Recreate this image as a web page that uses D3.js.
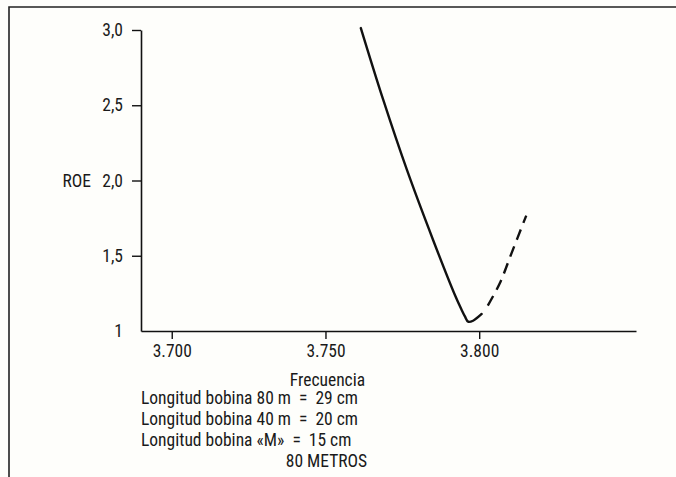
<!DOCTYPE html>
<html>
<head>
<meta charset="utf-8">
<script src="https://cdn.jsdelivr.net/npm/d3@7"></script>
<style>
  html, body { margin: 0; padding: 0; background: #fefefb; }
  svg { display: block; }
  text { font-family: "Liberation Sans Narrow", "Arial Narrow", "Roboto Condensed", sans-serif; fill: #1a1a1a; }
</style>
</head>
<body>
<svg id="chart" width="676" height="477"></svg>
<script>
// ---- data ----
const solidFreq = [3.7615, 3.7688, 3.7765, 3.7850, 3.7921, 3.7943, 3.7954, 3.7964, 3.7980, 3.8008];
const solidRoe  = [3.013, 2.535, 2.070, 1.605, 1.239, 1.140, 1.095, 1.062, 1.068, 1.113];
const dashFreq  = [3.8028, 3.8067, 3.8105, 3.8153];
const dashRoe   = [1.169, 1.317, 1.516, 1.767];
const xTicks = [3.700, 3.750, 3.800];
const yTicks = [1, 1.5, 2.0, 2.5, 3.0];
const yTitle = "ROE";
const xTitle = "Frecuencia";
const notes = [
  "Longitud bobina 80 m  =  29 cm",
  "Longitud bobina 40 m  =  20 cm",
  "Longitud bobina «M»  =  15 cm"
];
const footer = "80 METROS";

// ---- layout ----
const svg = d3.select("#chart");
const W = 676, H = 477;
const FS = "17.5px";
svg.append("rect").attr("width", W).attr("height", H).attr("fill", "#fefefb");

// frame (top and left edges visible)
svg.append("path")
  .attr("d", `M${9},${H} L${9},${7} L${W},${7}`)
  .attr("fill", "none").attr("stroke", "#222").attr("stroke-width", 1.6);

const x = d3.scaleLinear().domain([3.69, 3.851]).range([141, 636]);
const y = d3.scaleLinear().domain([1, 3]).range([331, 30]);

// y axis
const yAxis = d3.axisLeft(y)
  .tickValues(yTicks)
  .tickSize(9)
  .tickSizeOuter(0)
  .tickPadding(9)
  .tickFormat(d => d === 1 ? "1" : d.toFixed(1).replace(".", ","));
const gy = svg.append("g").attr("transform", `translate(${x(3.69)},0)`).call(yAxis);
gy.select(".domain").attr("stroke", "#111").attr("stroke-width", 1.6);
gy.selectAll(".tick line").attr("stroke", "#111").attr("stroke-width", 1.4)
  .filter(d => d === 1).remove();
gy.selectAll(".tick text").style("font-size", FS).attr("fill", "#1a1a1a");

// x axis
const xAxis = d3.axisBottom(x)
  .tickValues(xTicks)
  .tickSize(8)
  .tickSizeOuter(0)
  .tickPadding(6)
  .tickFormat(d => d.toFixed(3));
const gx = svg.append("g").attr("transform", `translate(0,${y(1)})`).call(xAxis);
gx.select(".domain").attr("stroke", "#111").attr("stroke-width", 1.6);
gx.selectAll(".tick line").attr("stroke", "#111").attr("stroke-width", 1.4);
gx.selectAll(".tick text").style("font-size", FS).attr("fill", "#1a1a1a");

// axis titles
svg.append("text").attr("x", 91).attr("y", y(2)).attr("dy", "0.36em")
  .attr("text-anchor", "end").style("font-size", FS).text(yTitle);
svg.append("text").attr("x", x(3.75) + 2).attr("y", 380).attr("dy", "0.36em")
  .attr("text-anchor", "middle").style("font-size", FS).text(xTitle);

// notes
notes.forEach((t, i) => {
  svg.append("text").attr("x", 141).attr("y", 398 + i * 21).attr("dy", "0.36em")
    .style("font-size", FS).attr("xml:space", "preserve").style("white-space", "pre").text(t);
});
svg.append("text").attr("x", x(3.75) + 1).attr("y", 461).attr("dy", "0.36em")
  .attr("text-anchor", "middle").style("font-size", FS).text(footer);

// curves
const line = d3.line().x(d => x(d[0])).y(d => y(d[1])).curve(d3.curveCatmullRom.alpha(0.5));
const solid = solidFreq.map((f, i) => [f, solidRoe[i]]);
const dashed = dashFreq.map((f, i) => [f, dashRoe[i]]);
svg.append("path").datum(solid).attr("d", line)
  .attr("fill", "none").attr("stroke", "#111").attr("stroke-width", 2.4).attr("stroke-linecap", "round");
svg.append("path").datum(dashed).attr("d", line)
  .attr("fill", "none").attr("stroke", "#111").attr("stroke-width", 2.4)
  .attr("stroke-dasharray", "11,7");
</script>
</body>
</html>
